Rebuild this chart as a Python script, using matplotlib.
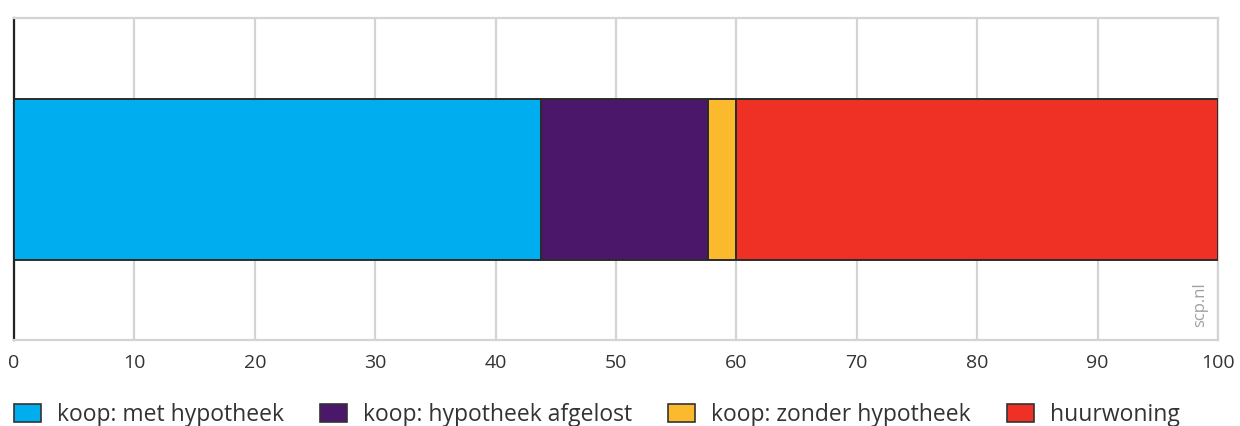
import matplotlib
matplotlib.use('Agg')
import matplotlib.pyplot as plt
from matplotlib.patches import Patch

categories = ['koop: met hypotheek', 'koop: hypotheek afgelost',
              'koop: zonder hypotheek', 'huurwoning']
values = [43.8, 13.8, 2.4, 40.0]
colors = ['#00aeef', '#4a176b', '#fbba2e', '#ee3124']
xticks = [0, 10, 20, 30, 40, 50, 60, 70, 80, 90, 100]

plt.rcParams['font.family'] = ['Open Sans', 'DejaVu Sans']

fig = plt.figure(figsize=(12.4, 4.26), dpi=100)
ax = fig.add_axes([14 / 1240, 1 - 340 / 426, 1204 / 1240, 322 / 426])

left = 0
for cat, val, col in zip(categories, values, colors):
    ax.barh(0, val, left=left, height=1.0, color=col, edgecolor='#2b2b2b',
            linewidth=1.4, label=cat, zorder=3)
    left += val

ax.set_xlim(0, 100)
ax.set_ylim(-1, 1)
ax.set_yticks([])
ax.set_xticks(xticks)
ax.set_xticklabels([str(t) for t in xticks], fontsize=14, color='#333333')
ax.tick_params(axis='x', length=0, pad=10)
ax.grid(axis='x', color='#d4d4d4', linewidth=1.6, zorder=0)

for s in ['top', 'right', 'bottom']:
    ax.spines[s].set_color('#d4d4d4')
    ax.spines[s].set_linewidth(1.6)
ax.spines['left'].set_color('#222222')
ax.spines['left'].set_linewidth(1.6)

ax.text(0.985, 0.04, 'scp.nl', transform=ax.transAxes, rotation=90,
        ha='center', va='bottom', fontsize=12, color='#a0a0a0')

handles = [Patch(facecolor=c, edgecolor='#333333', linewidth=1.2) for c in colors]
fig.legend(handles, categories, loc='lower left', bbox_to_anchor=(-0.0053, -0.05),
           ncol=4, frameon=False, fontsize=16.5, handlelength=1.18, handleheight=0.83,
           handletextpad=0.7, columnspacing=1.57, labelcolor='#333333')

fig.savefig('out.png', dpi=100)
